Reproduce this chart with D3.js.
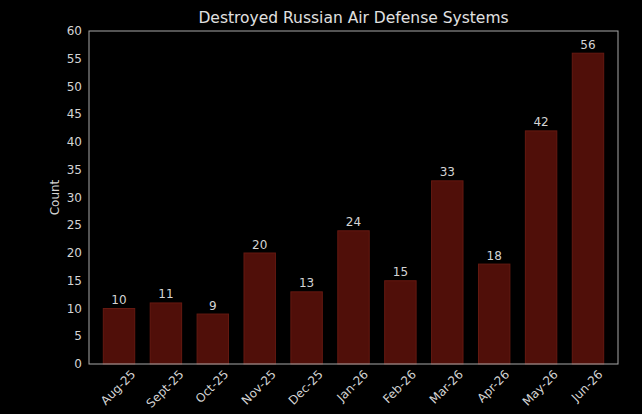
<!DOCTYPE html>
<html>
<head>
<meta charset="utf-8">
<script src="https://cdn.jsdelivr.net/npm/d3@7"></script>
<style>
  html, body { margin: 0; padding: 0; background: #000; }
  svg { display: block; }
</style>
</head>
<body>
<script>
var months = ["Aug-25", "Sept-25", "Oct-25", "Nov-25", "Dec-25", "Jan-26",
              "Feb-26", "Mar-26", "Apr-26", "May-26", "Jun-26"];
var counts = [10, 11, 9, 20, 13, 24, 15, 33, 18, 42, 56];
var yTicks = [0, 5, 10, 15, 20, 25, 30, 35, 40, 45, 50, 55, 60];

var width = 642, height = 414;
var margin = {top: 31, right: 24, bottom: 50, left: 89};
var font = "DejaVu Sans, sans-serif";
var textColor = "#d4d4d4";
var fs = 12;

var svg = d3.select("body").append("svg")
    .attr("width", width)
    .attr("height", height)
    .style("background", "#000");

var x = d3.scaleLinear()
    .domain([-0.64, months.length - 1 + 0.64])
    .range([margin.left, width - margin.right]);

var y = d3.scaleLinear()
    .domain([0, 60])
    .range([height - margin.bottom, margin.top]);

var barW = (x(1) - x(0)) * 0.67;

// bars
svg.append("g")
    .selectAll("rect")
    .data(counts)
    .join("rect")
    .attr("x", (d, i) => x(i) - barW / 2)
    .attr("y", d => y(d))
    .attr("width", barW)
    .attr("height", d => y(0) - y(d))
    .attr("fill", "#500f09")
    .attr("stroke", "#651911")
    .attr("stroke-width", 1);

// value labels
svg.append("g")
    .selectAll("text")
    .data(counts)
    .join("text")
    .attr("x", (d, i) => x(i))
    .attr("y", d => y(d) - 4.5)
    .attr("text-anchor", "middle")
    .attr("font-family", font)
    .attr("font-size", fs)
    .attr("fill", textColor)
    .text(d => d);

// frame
svg.append("rect")
    .attr("x", x.range()[0])
    .attr("y", y.range()[1])
    .attr("width", x.range()[1] - x.range()[0])
    .attr("height", y.range()[0] - y.range()[1])
    .attr("fill", "none")
    .attr("stroke", "#a8a8a8")
    .attr("stroke-width", 1);

// y axis labels (no tick marks)
svg.append("g")
    .selectAll("text")
    .data(yTicks)
    .join("text")
    .attr("x", margin.left - 7)
    .attr("y", d => y(d))
    .attr("dy", "0.35em")
    .attr("text-anchor", "end")
    .attr("font-family", font)
    .attr("font-size", fs)
    .attr("fill", textColor)
    .text(d => d);

// x labels, rotated 45 and centred on the tick
var xl = svg.append("g")
    .selectAll("text")
    .data(months)
    .join("text")
    .attr("text-anchor", "middle")
    .attr("dy", "0.35em")
    .attr("font-family", font)
    .attr("font-size", fs)
    .attr("fill", textColor)
    .text(d => d);

xl.each(function (d, i) {
    var w = this.getComputedTextLength();
    var half = (w + fs) / (2 * Math.SQRT2);
    var cx = x(i) - 1, cy = y(0) + 4 + half;
    d3.select(this)
        .attr("x", cx)
        .attr("y", cy)
        .attr("transform", `rotate(-45,${cx},${cy})`);
});

// axis title
svg.append("text")
    .attr("transform", `translate(${margin.left - 30},${(y.range()[0] + y.range()[1]) / 2}) rotate(-90)`)
    .attr("text-anchor", "middle")
    .attr("font-family", font)
    .attr("font-size", fs)
    .attr("fill", textColor)
    .text("Count");

// chart title
svg.append("text")
    .attr("x", (x.range()[0] + x.range()[1]) / 2)
    .attr("y", 22.5)
    .attr("text-anchor", "middle")
    .attr("font-family", font)
    .attr("font-size", 15.5)
    .attr("fill", "#e0e0e0")
    .text("Destroyed Russian Air Defense Systems");
</script>
</body>
</html>
